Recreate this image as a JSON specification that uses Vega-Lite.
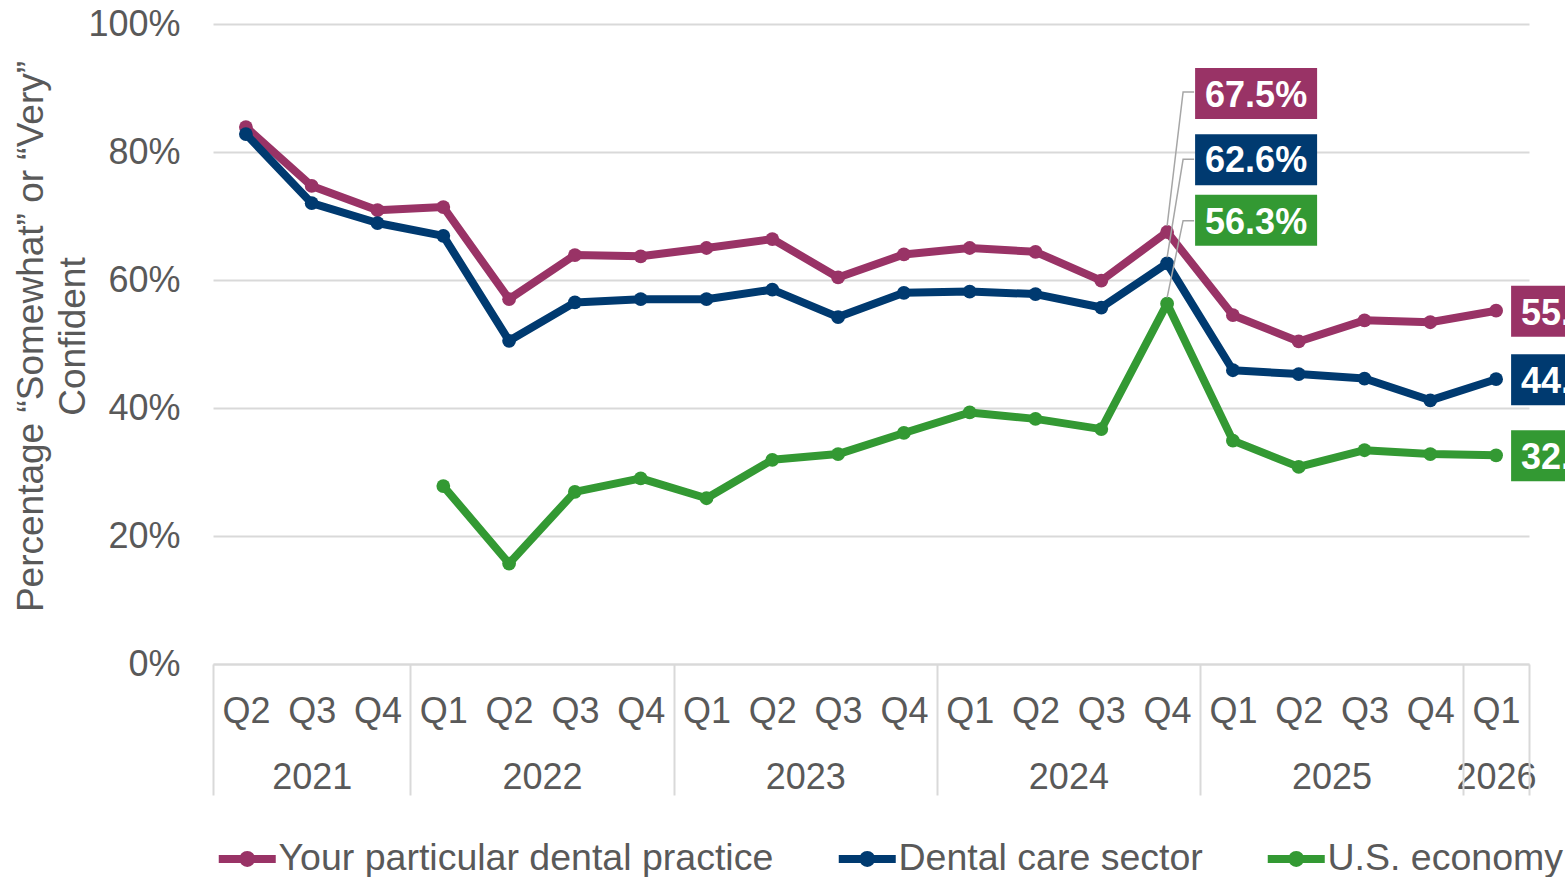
{
  "$schema": "https://vega.github.io/schema/vega-lite/v6.json",
  "width": 1316,
  "height": 640,
  "autosize": {"type": "none"},
  "padding": {"left": 213, "top": 24, "right": 36, "bottom": 213},
  "background": "white",
  "config": {
    "font": "Liberation Sans",
    "view": {"stroke": null},
    "axis": {"labelFont": "Liberation Sans", "titleFont": "Liberation Sans", "labelColor": "#595959", "titleColor": "#595959"}
  },
  "datasets": {
    "conf": [
      {"series": "Your particular dental practice", "t": 2021.25, "v": 0.839},
      {"series": "Your particular dental practice", "t": 2021.5, "v": 0.747},
      {"series": "Your particular dental practice", "t": 2021.75, "v": 0.709},
      {"series": "Your particular dental practice", "t": 2022.0, "v": 0.714},
      {"series": "Your particular dental practice", "t": 2022.25, "v": 0.570},
      {"series": "Your particular dental practice", "t": 2022.5, "v": 0.639},
      {"series": "Your particular dental practice", "t": 2022.75, "v": 0.637},
      {"series": "Your particular dental practice", "t": 2023.0, "v": 0.650},
      {"series": "Your particular dental practice", "t": 2023.25, "v": 0.664},
      {"series": "Your particular dental practice", "t": 2023.5, "v": 0.604},
      {"series": "Your particular dental practice", "t": 2023.75, "v": 0.640},
      {"series": "Your particular dental practice", "t": 2024.0, "v": 0.650},
      {"series": "Your particular dental practice", "t": 2024.25, "v": 0.644},
      {"series": "Your particular dental practice", "t": 2024.5, "v": 0.599},
      {"series": "Your particular dental practice", "t": 2024.75, "v": 0.675},
      {"series": "Your particular dental practice", "t": 2025.0, "v": 0.545},
      {"series": "Your particular dental practice", "t": 2025.25, "v": 0.504},
      {"series": "Your particular dental practice", "t": 2025.5, "v": 0.537},
      {"series": "Your particular dental practice", "t": 2025.75, "v": 0.534},
      {"series": "Your particular dental practice", "t": 2026.0, "v": 0.552},
      {"series": "Dental care sector", "t": 2021.25, "v": 0.828},
      {"series": "Dental care sector", "t": 2021.5, "v": 0.720},
      {"series": "Dental care sector", "t": 2021.75, "v": 0.689},
      {"series": "Dental care sector", "t": 2022.0, "v": 0.669},
      {"series": "Dental care sector", "t": 2022.25, "v": 0.505},
      {"series": "Dental care sector", "t": 2022.5, "v": 0.565},
      {"series": "Dental care sector", "t": 2022.75, "v": 0.570},
      {"series": "Dental care sector", "t": 2023.0, "v": 0.570},
      {"series": "Dental care sector", "t": 2023.25, "v": 0.585},
      {"series": "Dental care sector", "t": 2023.5, "v": 0.542},
      {"series": "Dental care sector", "t": 2023.75, "v": 0.580},
      {"series": "Dental care sector", "t": 2024.0, "v": 0.582},
      {"series": "Dental care sector", "t": 2024.25, "v": 0.578},
      {"series": "Dental care sector", "t": 2024.5, "v": 0.557},
      {"series": "Dental care sector", "t": 2024.75, "v": 0.626},
      {"series": "Dental care sector", "t": 2025.0, "v": 0.459},
      {"series": "Dental care sector", "t": 2025.25, "v": 0.453},
      {"series": "Dental care sector", "t": 2025.5, "v": 0.446},
      {"series": "Dental care sector", "t": 2025.75, "v": 0.412},
      {"series": "Dental care sector", "t": 2026.0, "v": 0.445},
      {"series": "U.S. economy", "t": 2022.0, "v": 0.278},
      {"series": "U.S. economy", "t": 2022.25, "v": 0.157},
      {"series": "U.S. economy", "t": 2022.5, "v": 0.269},
      {"series": "U.S. economy", "t": 2022.75, "v": 0.290},
      {"series": "U.S. economy", "t": 2023.0, "v": 0.259},
      {"series": "U.S. economy", "t": 2023.25, "v": 0.319},
      {"series": "U.S. economy", "t": 2023.5, "v": 0.328},
      {"series": "U.S. economy", "t": 2023.75, "v": 0.361},
      {"series": "U.S. economy", "t": 2024.0, "v": 0.393},
      {"series": "U.S. economy", "t": 2024.25, "v": 0.383},
      {"series": "U.S. economy", "t": 2024.5, "v": 0.367},
      {"series": "U.S. economy", "t": 2024.75, "v": 0.563},
      {"series": "U.S. economy", "t": 2025.0, "v": 0.349},
      {"series": "U.S. economy", "t": 2025.25, "v": 0.308},
      {"series": "U.S. economy", "t": 2025.5, "v": 0.334},
      {"series": "U.S. economy", "t": 2025.75, "v": 0.328},
      {"series": "U.S. economy", "t": 2026.0, "v": 0.326}
    ]
  },
  "layer": [
    {
      "data": {"name": "conf"},
      "encoding": {
        "x": {
          "field": "t", "type": "quantitative",
          "scale": {"domain": [2021.125, 2026.125], "nice": false, "zero": false},
          "axis": {
            "orient": "bottom", "title": null,
            "values": [2021.25, 2021.5, 2021.75, 2022.0, 2022.25, 2022.5, 2022.75, 2023.0, 2023.25, 2023.5, 2023.75, 2024.0, 2024.25, 2024.5, 2024.75, 2025.0, 2025.25, 2025.5, 2025.75, 2026.0],
            "labelExpr": "'Q' + (round((datum.value - floor(datum.value)) * 4) + 1)",
            "ticks": false, "tickSize": 0, "grid": false,
            "domain": true, "domainColor": "#D9D9D9", "domainWidth": 2,
            "labelPadding": 30, "labelFontSize": 36,
            "labelFlush": false, "labelOverlap": false, "labelBound": false
          }
        },
        "y": {
          "field": "v", "type": "quantitative",
          "scale": {"domain": [0, 1], "nice": false, "zero": true},
          "axis": {
            "values": [0, 0.2, 0.4, 0.6, 0.8, 1],
            "format": ".0%",
            "grid": true, "gridColor": "#D9D9D9", "gridWidth": 2,
            "domain": false, "ticks": false, "tickSize": 0,
            "labelPadding": 33, "labelFontSize": 36,
            "title": ["Percentage “Somewhat” or “Very”", "Confident"],
            "titleFontSize": 37, "titleFontWeight": "normal", "titleLineHeight": 42,
            "titleAngle": -90, "titleAlign": "center", "titleBaseline": "middle",
            "titleX": -182, "titleY": 312
          }
        }
      },
      "layer": [
        {
          "mark": {"type": "line", "strokeWidth": 8, "strokeJoin": "round", "point": {"filled": true, "size": 190, "opacity": 1}},
          "encoding": {
            "color": {
              "field": "series", "type": "nominal",
              "scale": {"domain": ["Your particular dental practice", "Dental care sector", "U.S. economy"], "range": ["#993366", "#003A70", "#339933"]},
              "legend": {
                "orient": "none", "legendX": -13, "legendY": 816, "direction": "horizontal",
                "title": null, "labelFontSize": 37.5, "labelColor": "#595959", "labelFont": "Liberation Sans",
                "labelLimit": 0,
                "symbolType": "M0,0H57M24.5,0A4,4 0 1,0 32.5,0A4,4 0 1,0 24.5,0",
                "symbolSize": 4, "symbolStrokeWidth": 8,
                "labelOffset": 41, "columnPadding": 46, "padding": 0, "symbolOffset": 0
              }
            }
          }
        },
        {
          "transform": [{"filter": "datum.t == 2024.75"}],
          "mark": {"type": "point", "size": 4, "filled": false, "stroke": "#A6A6A6", "strokeWidth": 1.5, "opacity": 1},
          "encoding": {
            "shape": {
              "field": "series", "type": "nominal",
              "scale": {"domain": ["Your particular dental practice", "Dental care sector", "U.S. economy"], "range": ["M0,-6L16,-140H27", "M0,-6L16,-104H27", "M0,-6L16,-83H27"]},
              "legend": null
            }
          }
        },
        {
          "transform": [{"filter": "datum.t == 2024.75"}],
          "mark": {"type": "point", "size": 4, "filled": true, "opacity": 1, "strokeWidth": 0},
          "encoding": {
            "shape": {
              "field": "series", "type": "nominal",
              "scale": {"domain": ["Your particular dental practice", "Dental care sector", "U.S. economy"], "range": ["M28,-164H150V-113H28Z", "M28,-129H150V-78H28Z", "M28,-109H150V-58H28Z"]},
              "legend": null
            },
            "fill": {
              "field": "series", "type": "nominal",
              "scale": {"domain": ["Your particular dental practice", "Dental care sector", "U.S. economy"], "range": ["#993366", "#003A70", "#339933"]},
              "legend": null
            }
          }
        },
        {
          "transform": [{"filter": "datum.t == 2024.75 && datum.series == 'Your particular dental practice'"}],
          "mark": {"type": "text", "color": "white", "fontWeight": "bold", "fontSize": 36, "align": "center", "baseline": "middle", "dx": 89, "dy": -136},
          "encoding": {"text": {"field": "v", "type": "quantitative", "format": ".1%"}}
        },
        {
          "transform": [{"filter": "datum.t == 2024.75 && datum.series == 'Dental care sector'"}],
          "mark": {"type": "text", "color": "white", "fontWeight": "bold", "fontSize": 36, "align": "center", "baseline": "middle", "dx": 89, "dy": -102},
          "encoding": {"text": {"field": "v", "type": "quantitative", "format": ".1%"}}
        },
        {
          "transform": [{"filter": "datum.t == 2024.75 && datum.series == 'U.S. economy'"}],
          "mark": {"type": "text", "color": "white", "fontWeight": "bold", "fontSize": 36, "align": "center", "baseline": "middle", "dx": 89, "dy": -81},
          "encoding": {"text": {"field": "v", "type": "quantitative", "format": ".1%"}}
        },
        {
          "transform": [{"filter": "datum.t == 2026"}],
          "mark": {"type": "point", "size": 4, "filled": true, "opacity": 1, "strokeWidth": 0, "shape": "M15,-25H137V26H15Z"},
          "encoding": {
            "fill": {
              "field": "series", "type": "nominal",
              "scale": {"domain": ["Your particular dental practice", "Dental care sector", "U.S. economy"], "range": ["#993366", "#003A70", "#339933"]},
              "legend": null
            }
          }
        },
        {
          "transform": [{"filter": "datum.t == 2026"}],
          "mark": {"type": "text", "color": "white", "fontWeight": "bold", "fontSize": 36, "align": "center", "baseline": "middle", "dx": 76, "dy": 3},
          "encoding": {"text": {"field": "v", "type": "quantitative", "format": ".1%"}}
        }
      ],
      "resolve": {"scale": {"shape": "independent"}}
    },
    {
      "data": {"name": "conf"},
      "mark": {"type": "point", "opacity": 0},
      "encoding": {
        "x": {
          "field": "t", "type": "quantitative",
          "scale": {"domain": [2021.125, 2026.125], "nice": false, "zero": false},
          "axis": {
            "orient": "bottom", "title": null,
            "values": [2021.5, 2022.375, 2023.375, 2024.375, 2025.375, 2026.0],
            "labelExpr": "'' + floor(datum.value)",
            "ticks": false, "tickSize": 0, "grid": false, "domain": false,
            "labelPadding": 96, "labelFontSize": 36,
            "labelFlush": false, "labelOverlap": false, "labelBound": false
          }
        }
      }
    },
    {
      "data": {"name": "conf"},
      "mark": {"type": "point", "opacity": 0},
      "encoding": {
        "x": {
          "field": "t", "type": "quantitative",
          "scale": {"domain": [2021.125, 2026.125], "nice": false, "zero": false},
          "axis": {
            "orient": "bottom", "title": null,
            "values": [2021.125, 2021.875, 2022.875, 2023.875, 2024.875, 2025.875, 2026.125],
            "labels": false, "ticks": true, "tickSize": 131, "tickColor": "#D9D9D9", "tickWidth": 2,
            "grid": false, "domain": false
          }
        }
      }
    }
  ],
  "resolve": {"scale": {"x": "independent"}}
}
